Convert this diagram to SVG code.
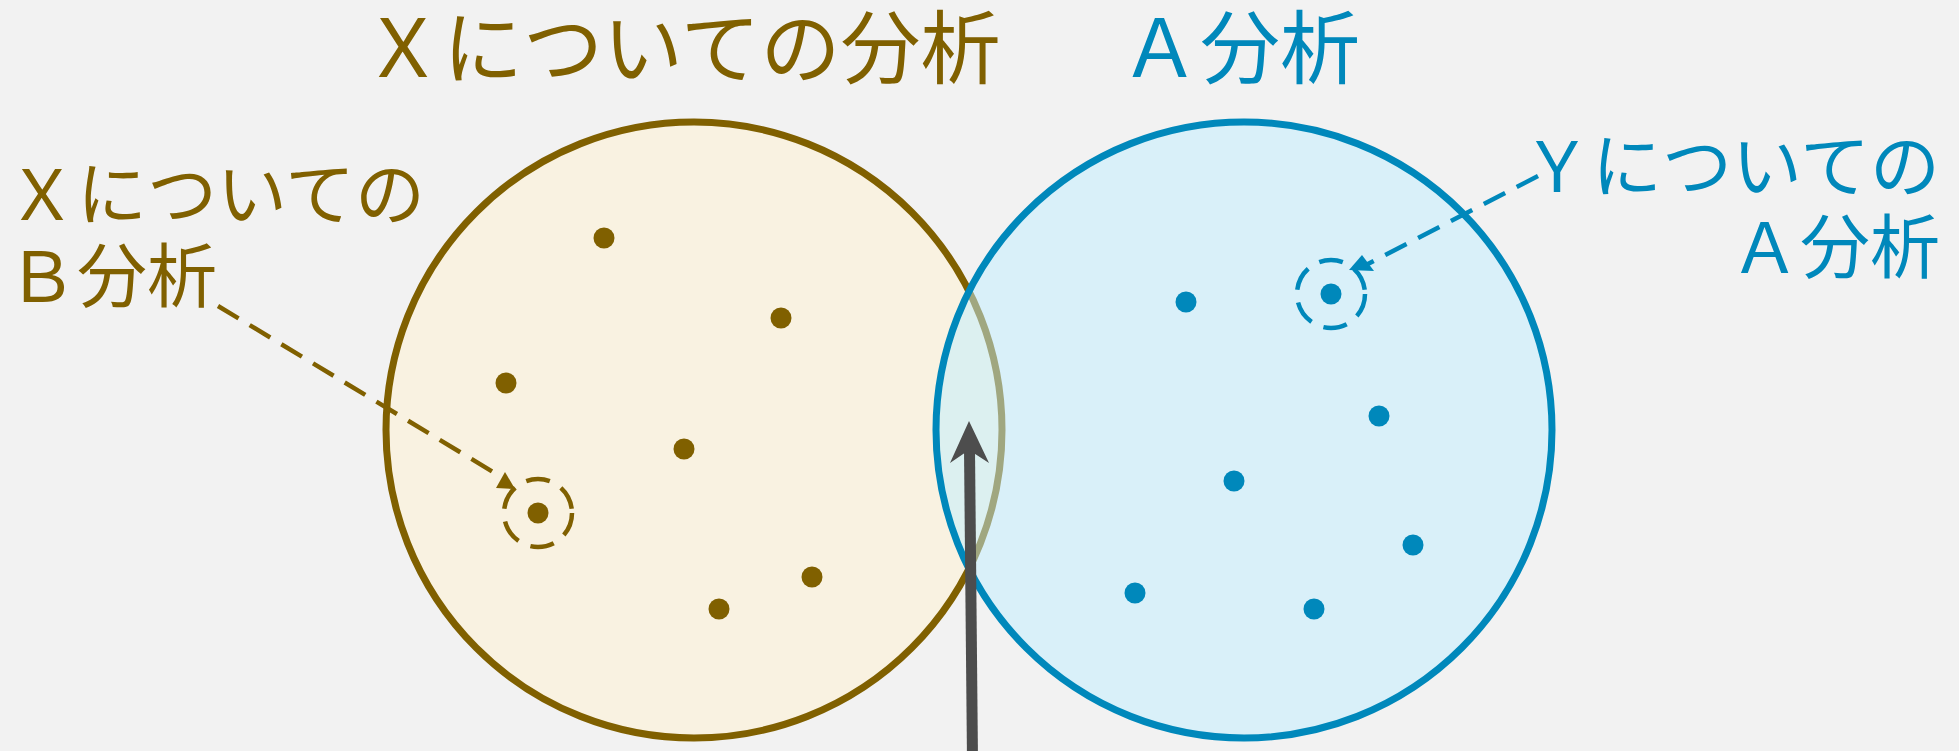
<svg xmlns="http://www.w3.org/2000/svg" width="1959" height="751" viewBox="0 0 1959 751">
<style>
.tb{fill:#806000;font-family:"Noto Sans CJK JP","Noto Sans",sans-serif}
.tu{fill:#0088bb;font-family:"Noto Sans CJK JP","Noto Sans",sans-serif}
.big{font-size:80px}
.mid{font-size:70px}
.db{fill:#806000}
.du{fill:#0088bb}
.lb{fill:none;stroke:#806000;stroke-width:4.5;stroke-dasharray:24 13}
.lu{fill:none;stroke:#0088bb;stroke-width:4.5;stroke-dasharray:24 13}
</style>
<rect width="1959" height="751" fill="#f2f2f2"/>
<g id="setX">
<circle cx="694" cy="430" r="308" fill="#f9f2e1" stroke="#806000" stroke-width="7"/>
</g>
<g id="setY">
<circle cx="1244" cy="430" r="308" fill="#bfeeff" fill-opacity="0.5" stroke="#0088bb" stroke-width="7"/>
</g>
<g id="dotsX">
<circle class="db" cx="604" cy="238" r="10.5"/>
<circle class="db" cx="781" cy="318" r="10.5"/>
<circle class="db" cx="506" cy="383" r="10.5"/>
<circle class="db" cx="684" cy="449" r="10.5"/>
<circle class="db" cx="538" cy="513" r="10.5"/>
<circle class="db" cx="812" cy="577" r="10.5"/>
<circle class="db" cx="719" cy="609" r="10.5"/>
</g>
<g id="dotsY">
<circle class="du" cx="1186" cy="302" r="10.5"/>
<circle class="du" cx="1331" cy="294" r="10.5"/>
<circle class="du" cx="1379" cy="416" r="10.5"/>
<circle class="du" cx="1234" cy="481" r="10.5"/>
<circle class="du" cx="1413" cy="545" r="10.5"/>
<circle class="du" cx="1135" cy="593" r="10.5"/>
<circle class="du" cx="1314" cy="609" r="10.5"/>
</g>
<g id="highlightB">
<circle class="lb" cx="538" cy="513" r="34"/>
</g>
<g id="highlightA">
<circle class="lu" cx="1331" cy="294" r="34"/>
</g>
<g id="connectors">
<line class="lb" x1="218" y1="306" x2="503" y2="478"/>
<polygon points="505,472 496,488 515,489" fill="#806000"/>
<line class="lu" x1="1538" y1="176" x2="1364" y2="266"/>
<polygon points="1362,255 1349,270 1374,271" fill="#0088bb"/>
<line x1="972.5" y1="760" x2="969.5" y2="450" stroke="#4d4d4d" stroke-width="11"/>
<path d="M969,421 L989,463 L969,450 L950,463 Z" fill="#4d4d4d"/>
</g>
<g id="titleX"><text class="tb big" x="363" y="77">Ｘについての分析</text></g>
<g id="titleA"><text class="tu big" x="1120" y="77">Ａ分析</text></g>
<g id="labelB"><text class="tb mid" x="7" y="220">Ｘについての</text><text class="tb mid" x="7" y="302">Ｂ分析</text></g>
<g id="labelA"><text class="tu mid" x="1940" y="192" text-anchor="end">Ｙについての</text><text class="tu mid" x="1940" y="273" text-anchor="end">Ａ分析</text></g>
</svg>
